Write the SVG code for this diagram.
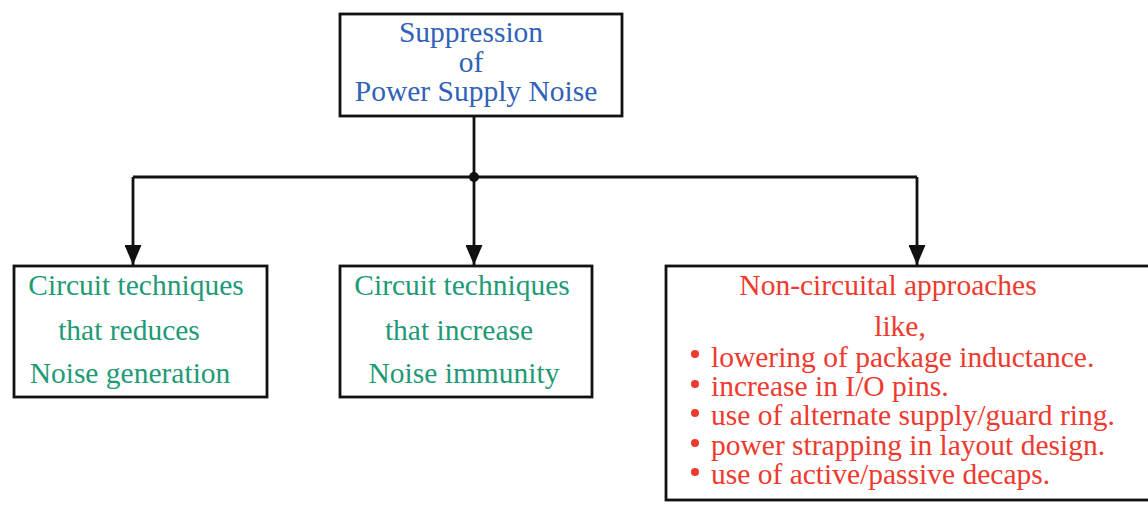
<svg xmlns="http://www.w3.org/2000/svg" width="1148" height="532" viewBox="0 0 1148 532">
<defs>
<style>
.box{fill:#ffffff;stroke:#111111;stroke-width:2.8}
.t{font-family:"Liberation Serif","Times New Roman",serif;font-size:29.5px}
.blue{fill:#2f62b8}
.green{fill:#1f9a76}
.red{fill:#ee3a2e}
.wire{fill:none;stroke:#111111;stroke-width:2.8}
</style>
<marker id="arr" viewBox="0 0 20 17" refX="20" refY="8.5" markerWidth="20" markerHeight="17" markerUnits="userSpaceOnUse" orient="auto">
<path d="M0,0 L20,8.5 L0,17 Z" fill="#111111"/>
</marker>
</defs>
<rect width="1148" height="532" fill="#ffffff"/>
<g id="connectors">
<path class="wire" d="M474,116 V177"/>
<path class="wire" d="M133,177 H917"/>
<circle cx="474" cy="177" r="5" fill="#111111"/>
<path class="wire" d="M133,177 V265" marker-end="url(#arr)"/>
<path class="wire" d="M474,177 V265" marker-end="url(#arr)"/>
<path class="wire" d="M917,177 V265" marker-end="url(#arr)"/>
</g>
<g id="root">
<rect class="box" x="340" y="14" width="282" height="102"/>
<text class="t blue" text-anchor="middle" x="471" y="42">Suppression</text>
<text class="t blue" text-anchor="middle" x="471" y="72">of</text>
<text class="t blue" text-anchor="middle" x="476" y="101">Power Supply Noise</text>
</g>
<g id="reduce">
<rect class="box" x="14" y="266" width="253" height="131"/>
<text class="t green" text-anchor="middle" x="136" y="295">Circuit techniques</text>
<text class="t green" text-anchor="middle" x="129" y="340">that reduces</text>
<text class="t green" text-anchor="middle" x="130" y="383">Noise generation</text>
</g>
<g id="immunity">
<rect class="box" x="340" y="266" width="252" height="131"/>
<text class="t green" text-anchor="middle" x="462" y="295">Circuit techniques</text>
<text class="t green" text-anchor="middle" x="459" y="340">that increase</text>
<text class="t green" text-anchor="middle" x="464" y="383">Noise immunity</text>
</g>
<g id="noncircuital">
<rect class="box" x="666" y="266" width="490" height="234"/>
<text class="t red" text-anchor="middle" x="888" y="295">Non-circuital approaches</text>
<text class="t red" text-anchor="middle" x="900" y="336">like,</text>
<g class="red">
<circle cx="695" cy="354" r="4"/>
<circle cx="695" cy="384" r="4"/>
<circle cx="695" cy="413" r="4"/>
<circle cx="695" cy="443" r="4"/>
<circle cx="695" cy="472" r="4"/>
</g>
<text class="t red" x="711" y="367">lowering of package inductance.</text>
<text class="t red" x="711" y="396">increase in I/O pins.</text>
<text class="t red" x="711" y="425">use of alternate supply/guard ring.</text>
<text class="t red" x="711" y="455">power strapping in layout design.</text>
<text class="t red" x="711" y="484">use of active/passive decaps.</text>
</g>
</svg>
